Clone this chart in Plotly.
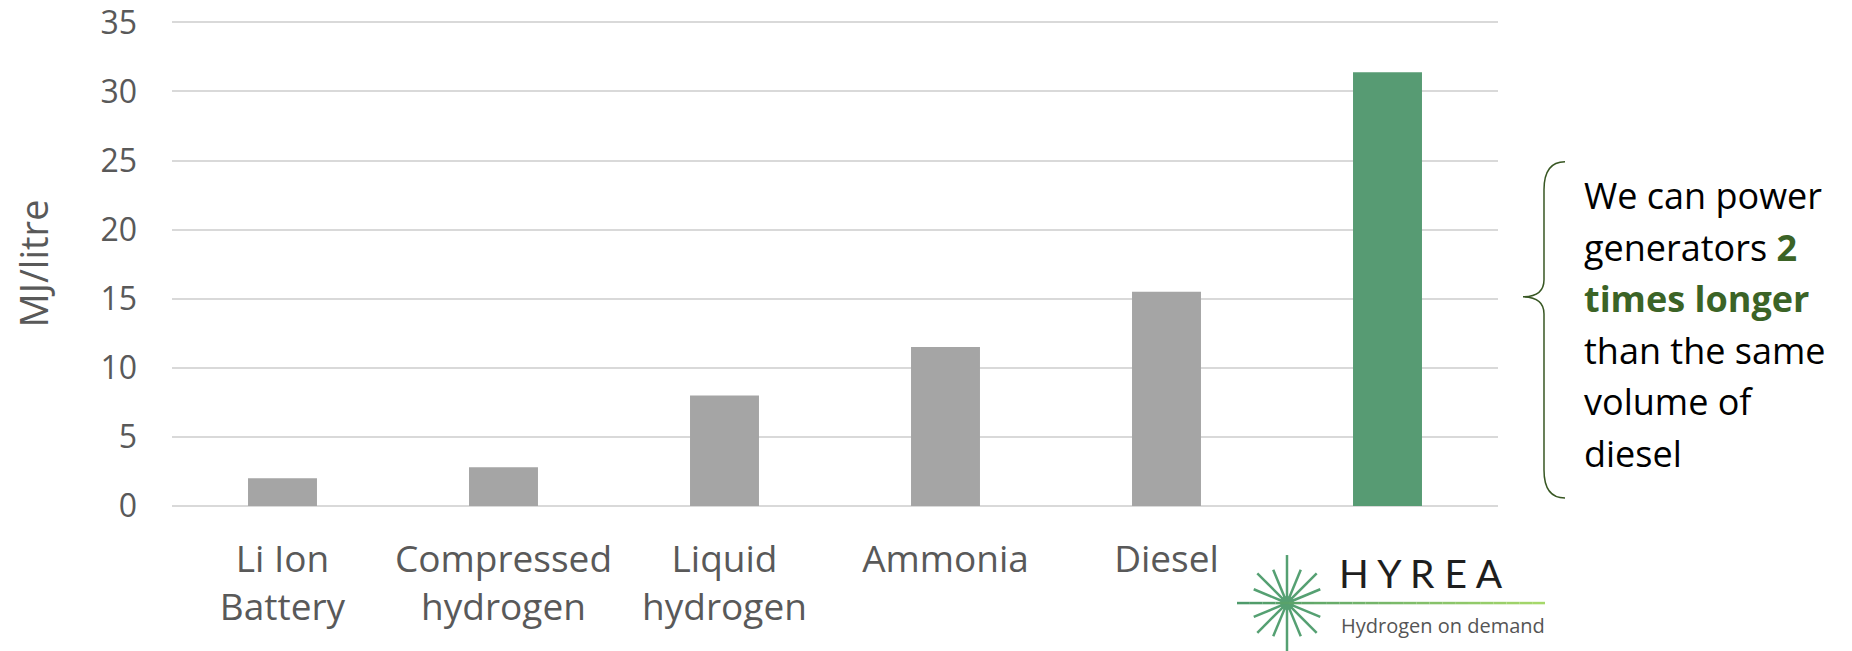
import math
import plotly.graph_objects as go

# ---- data ----
categories = ["Li Ion Battery", "Compressed hydrogen", "Liquid hydrogen", "Ammonia", "Diesel", "HYREA"]
tick_labels = ["Li Ion<br>Battery", "Compressed<br>hydrogen", "Liquid<br>hydrogen", "Ammonia", "Diesel", ""]
values = [2.0, 2.8, 8.0, 11.5, 15.5, 31.4]
bar_colors = ["#A5A5A5", "#A5A5A5", "#A5A5A5", "#A5A5A5", "#A5A5A5", "#579B73"]
y_ticks = [0, 5, 10, 15, 20, 25, 30, 35]

W, H = 1852, 651
L, R, T, B = 172, 1498, 21.3, 506  # plot area in pixels


def X(px):
    return (px - L) / (R - L)


def Y(py):
    return (B - py) / (B - T)


fig = go.Figure(go.Bar(
    x=categories, y=values, marker=dict(color=bar_colors, line=dict(width=0)),
    hoverinfo="x+y"))

font = "Open Sans, Liberation Sans, sans-serif"
fig.update_layout(
    width=W, height=H,
    margin=dict(l=L, r=W - R, t=T, b=H - B, pad=0, autoexpand=False),
    paper_bgcolor="white", plot_bgcolor="white",
    bargap=0.688, showlegend=False,
    font=dict(family=font, color="#595959"),
)
fig.update_xaxes(
    tickvals=categories, ticktext=tick_labels,
    tickfont=dict(size=37, color="#595959"),
    showgrid=False, showline=False, ticks="", ticklabelstandoff=28,
    automargin=False,
)
fig.update_yaxes(
    range=[0, 35.1], tickvals=y_ticks,
    tickfont=dict(size=32, color="#595959"),
    showgrid=True, gridcolor="#D9D9D9", gridwidth=2,
    zeroline=True, zerolinecolor="#D9D9D9", zerolinewidth=2,
    showline=False, ticks="", ticklabelstandoff=34, automargin=False,
    ticklabeloverflow="allow",
    title=dict(text="MJ/litre", font=dict(size=38, color="#595959"), standoff=40),
)

shapes = []
ann = []

# ---- brace ----
def P(px, py):
    return f"{X(px):.5f},{Y(py):.5f}"

brace = (f"M {P(1565,162)} Q {P(1544,162)} {P(1544,190)} L {P(1544,280)} "
         f"Q {P(1544,297)} {P(1523,297)} Q {P(1544,297)} {P(1544,314)} "
         f"L {P(1544,470)} Q {P(1544,498)} {P(1565,498)}")
shapes.append(dict(type="path", xref="paper", yref="paper", path=brace,
                   line=dict(color="#385723", width=1.5)))

# ---- right text ----
lines = [
    "We can power",
    "generators <b><span style='color:#3B6326'>2</span></b>",
    "<b><span style='color:#3B6326'>times longer</span></b>",
    "than the same",
    "volume of",
    "diesel",
]
for i, t in enumerate(lines):
    ann.append(dict(xref="paper", yref="paper", x=X(1582), y=Y(196 + 51.5 * i),
                    xanchor="left", yanchor="middle", text=t, showarrow=False,
                    font=dict(family=font, size=36, color="#000000")))

# ---- logo ----
cx, cy = 1287, 603
ray_len = [48, 36, 42, 36, 48, 36, 42, 36]
for k in range(16):
    if k in (0, 8):
        continue
    ang = math.radians(k * 22.5)
    ln = ray_len[k % 8]
    x0 = cx + 6 * math.cos(ang)
    y0 = cy - 6 * math.sin(ang)
    x1 = cx + ln * math.cos(ang)
    y1 = cy - ln * math.sin(ang)
    shapes.append(dict(type="line", xref="paper", yref="paper",
                       x0=X(x0), y0=Y(y0), x1=X(x1), y1=Y(y1),
                       line=dict(color="#55A072", width=2.5)))
shapes.append(dict(type="circle", xref="paper", yref="paper",
                   x0=X(cx - 7), x1=X(cx + 7), y0=Y(cy + 7), y1=Y(cy - 7),
                   fillcolor="#55A072", line=dict(width=0)))
# gradient horizontal line
xs0, xs1 = 1237, 1545
n = 24
c0 = (78, 154, 107)
c1 = (166, 216, 106)
for s in range(n):
    a = xs0 + (xs1 - xs0) * s / n
    b = xs0 + (xs1 - xs0) * (s + 1) / n
    f = s / (n - 1)
    col = "rgb(%d,%d,%d)" % tuple(int(c0[j] + (c1[j] - c0[j]) * f) for j in range(3))
    shapes.append(dict(type="line", xref="paper", yref="paper",
                       x0=X(a), x1=X(b), y0=Y(cy), y1=Y(cy),
                       line=dict(color=col, width=2.5)))

ann.append(dict(xref="paper", yref="paper", x=X(1337), y=Y(573), xanchor="left",
                yanchor="middle", text="H Y R E A", showarrow=False,
                font=dict(family="Lato, Open Sans, sans-serif", size=39, color="#1E1E1E")))
ann.append(dict(xref="paper", yref="paper", x=X(1339), y=Y(625), xanchor="left",
                yanchor="middle", text="Hydrogen on demand", showarrow=False,
                font=dict(family=font, size=20, color="#555555")))

fig.update_layout(shapes=shapes, annotations=ann)
fig.write_html("out.html", config={"displayModeBar": False},
               post_script="document.body.style.margin='0';document.body.style.overflow='hidden';")
